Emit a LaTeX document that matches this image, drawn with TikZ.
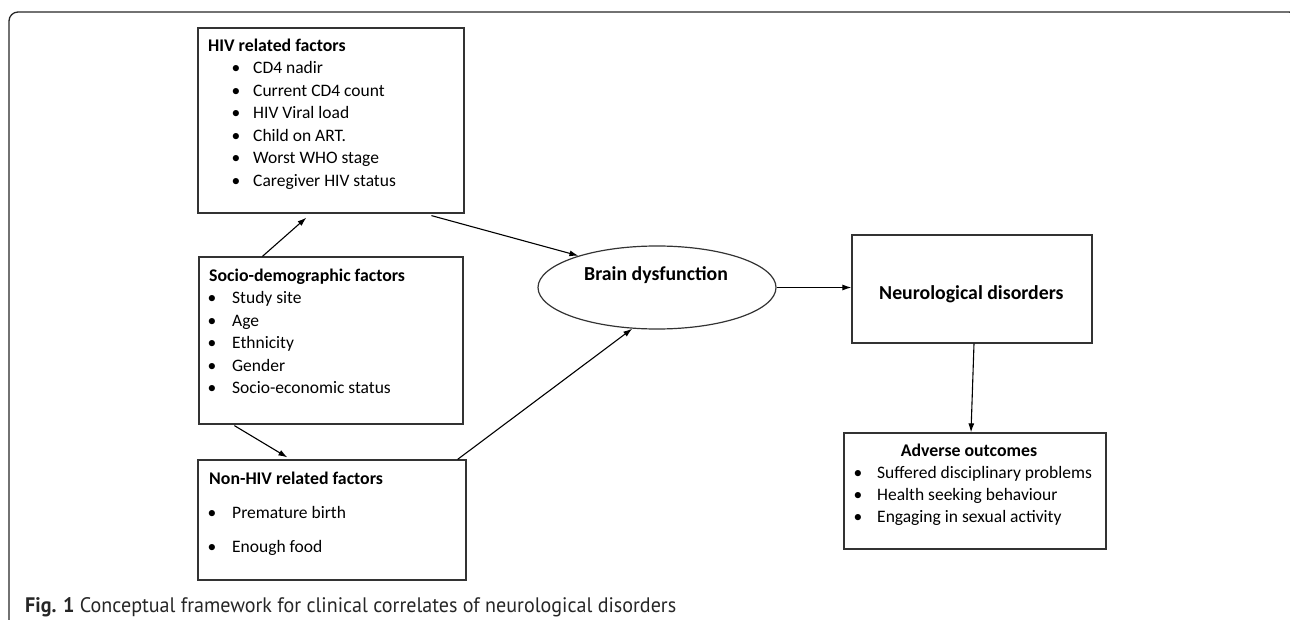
\documentclass[tikz,border=0pt]{standalone}
\usepackage{fontspec}
\setmainfont{Carlito}
\newfontfamily\capfont{PT Sans}
\usetikzlibrary{arrows.meta,shapes.geometric,calc}
\tikzset{
  box/.style={draw=black!80, line width=1.2pt, inner sep=0pt},
  conn/.style={draw=black, line width=1.1pt, -{Latex[length=9pt,width=6pt]}},
  lbl/.style={anchor=base west, inner sep=0pt, font=\fontsize{17.5}{21}\selectfont},
  hdr/.style={lbl, font=\fontsize{17.8}{21}\selectfont\bfseries},
  bul/.style={anchor=base, inner sep=0pt, font=\fontsize{17.5}{21}\selectfont},
}
\begin{document}
\begin{tikzpicture}[x=1pt,y=-1pt]
\useasboundingbox (0,0) rectangle (1290,620);
\begin{scope}
\clip (0,0) rectangle (1290,620);
\draw[line width=1.3pt, black!85, rounded corners=9pt] (9,640) -- (9,12) -- (1298,12) -- (1298,640);
\end{scope}
% boxes
\node[box, minimum width=266pt, minimum height=185pt] (hiv) at (331,120.5) {};
\node[box, minimum width=264pt, minimum height=167pt] (socio) at (331,340.5) {};
\node[box, minimum width=268pt, minimum height=120pt] (nonhiv) at (332,520) {};
\node[box, ellipse, minimum width=238pt, minimum height=83pt] (ell) at (657,287.5) {};
\node[box, minimum width=240pt, minimum height=108pt] (neuro) at (972,289) {};
\node[box, minimum width=262pt, minimum height=116pt] (adv) at (975,491) {};
% HIV text
\node[hdr] (h0) at (208,52) {HIV related factors};
\foreach \t/\y [count=\i] in {CD4 nadir/74, Current CD4 count/96.5, HIV Viral load/119, Child on ART./141.5, Worst WHO stage/164, Caregiver HIV status/186.5}{
  \node[bul] (hb\i) at (236,\y) {•};
  \node[lbl] (ht\i) at (253,\y) {\t};
}
% Socio text
\node[hdr] (s0) at (209,282) {Socio-demographic factors};
\foreach \t/\y [count=\i] in {Study site/303.5, Age/326, Ethnicity/348.5, Gender/371, Socio-economic status/393.5}{
  \node[bul] (sb\i) at (212,\y) {•};
  \node[lbl] (st\i) at (232,\y) {\t};
}
% Non-HIV text
\node[hdr] (n0) at (209,484) {Non-HIV related factors};
\foreach \t/\y [count=\i] in {Premature birth/518.5, Enough food/552}{
  \node[bul] (nb\i) at (212,\y) {•};
  \node[lbl] (nt\i) at (232,\y) {\t};
}
% Brain dysfunction
\node[anchor=base west, inner sep=0pt, font=\fontsize{19.8}{23}\selectfont\bfseries] (bt) at (584,280) {Brain dysfunction};
% Neurological disorders
\node[anchor=base west, inner sep=0pt, font=\fontsize{19.8}{23}\selectfont\bfseries] (nd) at (879,299) {Neurological disorders};
% Adverse outcomes
\node[hdr, anchor=base] (a0) at (969,456) {Adverse outcomes};
\foreach \t/\y [count=\i] in {Suffered disciplinary problems/478, Health seeking behaviour/500, Engaging in sexual activity/522}{
  \node[bul] (ab\i) at (858,\y) {•};
  \node[lbl] (at\i) at (877,\y) {\t};
}
% connectors
\draw[conn] ([xshift=64pt]socio.north west) -- ([xshift=109pt,yshift=-4pt]hiv.south west);
\draw[conn] ([xshift=234pt,yshift=-2pt]hiv.south west) -- (ell.158);
\draw[conn] ([xshift=36pt,yshift=-1pt]socio.south west) -- ([xshift=90pt,yshift=2pt]nonhiv.north west);
\draw[conn] ([xshift=-9pt]nonhiv.north east) -- (ell.239);
\draw[conn] (ell.east) -- (ell.east -| neuro.west);
\draw[conn] ([xshift=2pt]neuro.south) -- ([xshift=-4pt]adv.north);
% caption
\node[anchor=base west, inner sep=0pt, text=black!85, font=\capfont\fontsize{21}{24}\selectfont] (cap) at (25,612)
  {\resizebox{651pt}{\height}{\textbf{Fig. 1} Conceptual framework for clinical correlates of neurological disorders}};
\end{tikzpicture}
\end{document}
